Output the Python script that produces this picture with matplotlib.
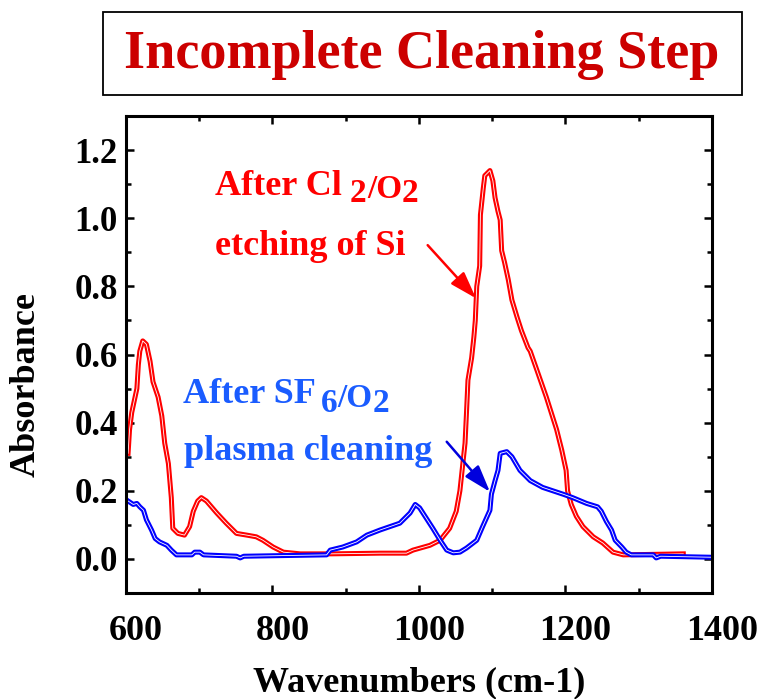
import matplotlib
matplotlib.use("Agg")
import matplotlib.pyplot as plt
import matplotlib.transforms as mtransforms
from matplotlib.patches import Rectangle
import numpy as np

# SPECTRUM DATA (wavenumber in cm-1, absorbance)
cl_wn = [603, 605, 608, 612, 615, 617, 619, 623, 628, 633, 637, 644, 649, 653, 658, 662, 664,
         671, 680, 687, 692, 698, 703, 710, 724, 737, 751, 765, 778, 787, 801, 815, 838, 880,
         947, 983, 992, 1015, 1029, 1042, 1051, 1056, 1060, 1063, 1065, 1067, 1072, 1075, 1077,
         1079, 1083, 1084, 1088, 1090, 1097, 1101, 1104, 1108, 1111, 1113, 1117, 1122, 1127,
         1134, 1140, 1149, 1152, 1161, 1174, 1188, 1195, 1201, 1203, 1208, 1215, 1224, 1238,
         1251, 1265, 1279, 1361]
cl_abs = [0.31, 0.38, 0.43, 0.47, 0.50, 0.57, 0.61, 0.64, 0.63, 0.58, 0.52, 0.475, 0.42, 0.34,
          0.28, 0.18, 0.09, 0.075, 0.07, 0.095, 0.14, 0.17, 0.18, 0.17, 0.135, 0.105, 0.075,
          0.07, 0.065, 0.055, 0.035, 0.02, 0.015, 0.015, 0.017, 0.017, 0.026, 0.04, 0.055,
          0.09, 0.14, 0.20, 0.28, 0.34, 0.43, 0.525, 0.59, 0.65, 0.70, 0.80, 0.86, 1.01, 1.09,
          1.125, 1.14, 1.11, 1.06, 1.02, 0.995, 0.905, 0.87, 0.82, 0.76, 0.71, 0.67, 0.62,
          0.61, 0.555, 0.475, 0.38, 0.32, 0.26, 0.20, 0.16, 0.125, 0.095, 0.065, 0.047, 0.02,
          0.012, 0.015]

sf_wn = [601, 610, 615, 619, 624, 628, 635, 640, 646, 656, 662, 669, 690, 694, 701, 706, 751,
         756, 761, 874, 879, 896, 915, 929, 947, 974, 988, 995, 1001, 1010, 1019, 1029, 1038,
         1047, 1056, 1065, 1079, 1087, 1097, 1099, 1104, 1108, 1111, 1120, 1127, 1138, 1152,
         1169, 1197, 1210, 1229, 1244, 1249, 1256, 1263, 1268, 1277, 1283, 1290, 1320, 1324,
         1330, 1400]
sf_abs = [0.173, 0.16, 0.163, 0.153, 0.143, 0.115, 0.085, 0.06, 0.05, 0.04, 0.026, 0.012,
          0.012, 0.02, 0.02, 0.012, 0.008, 0.003, 0.008, 0.012, 0.026, 0.035, 0.05, 0.07,
          0.085, 0.105, 0.135, 0.16, 0.15, 0.12, 0.09, 0.055, 0.026, 0.018, 0.02, 0.032,
          0.055, 0.095, 0.143, 0.19, 0.23, 0.26, 0.31, 0.315, 0.30, 0.26, 0.23, 0.21, 0.19,
          0.18, 0.163, 0.153, 0.14, 0.11, 0.085, 0.055, 0.035, 0.02, 0.012, 0.012, 0.003,
          0.008, 0.005]

plt.rcParams['font.family'] = 'Liberation Serif'
plt.rcParams['font.weight'] = 'bold'

fig = plt.figure(figsize=(7.63, 6.99), dpi=100)
fig.patch.set_facecolor('white')
ax = fig.add_axes([0.165, 0.1516, 0.768, 0.6824])

# DOUBLE-STROKE CURVES (colored outline with a thin white core)
ax.plot(cl_wn, cl_abs, color='#ff0000', lw=3.6)
ax.plot(cl_wn, cl_abs, color='white', lw=0.6)
ax.plot(sf_wn, sf_abs, color='#0000ff', lw=3.6)
ax.plot(sf_wn, sf_abs, color='white', lw=0.6)

ax.set_xlim(600, 1400)
ax.set_ylim(-0.1, 1.3)
ax.set_xticks(np.arange(600, 1401, 200))
ax.set_xticks(np.arange(700, 1400, 200), minor=True)
ax.set_yticks(np.arange(0, 1.21, 0.2))
ax.set_yticks(np.arange(0.1, 1.3, 0.2), minor=True)
ax.set_yticklabels(['0.0', '0.2', '0.4', '0.6', '0.8', '1.0', '1.2'])

for side in ['top', 'bottom', 'left', 'right']:
    ax.spines[side].set_linewidth(2.2)
ax.tick_params(which='both', direction='in', top=True, right=True, width=1.8)
ax.tick_params(which='major', length=6)
ax.tick_params(which='minor', length=3.8)
ax.tick_params(axis='x', which='major', labelsize=26, pad=16)
ax.tick_params(axis='y', which='major', labelsize=25, pad=6)

# NUDGE X TICK LABELS A LITTLE TO THE RIGHT
shift = mtransforms.ScaledTranslation(10 / 100, 0, fig.dpi_scale_trans)
for lab in ax.get_xticklabels():
    lab.set_transform(lab.get_transform() + shift)

ax.set_xlabel('Wavenumbers (cm-1)', fontsize=26, fontweight='bold', labelpad=13)
ax.set_ylabel('Absorbance', fontsize=26, fontweight='bold')
ax.yaxis.set_label_coords(-0.142, 0.438)

# TITLE IN A FRAMED BOX
fig.patches.append(Rectangle((103 / 763, 1 - 95 / 699), 639 / 763, 83 / 699,
                             transform=fig.transFigure, fill=False, edgecolor='black',
                             lw=1.3))
fig.text(422 / 763, 1 - 55 / 699, 'Incomplete Cleaning Step', color='#cc0000',
         fontsize=39, fontweight='bold', ha='center', va='center')


def drop(px):
    # shift a text down by a number of pixels
    return ax.transData + mtransforms.ScaledTranslation(0, -px / 100, fig.dpi_scale_trans)


# ANNOTATIONS
red = '#ff0000'
ax.text(721, 1.067, 'After Cl', color=red, fontsize=26, va='baseline')
ax.text(905, 1.067, '2', color=red, fontsize=24, va='baseline', transform=drop(7))
ax.text(929, 1.067, '/O', color=red, fontsize=24, va='baseline', transform=drop(3))
ax.text(977, 1.067, '2', color=red, fontsize=24, va='baseline', transform=drop(7))
ax.text(721, 0.891, 'etching of Si', color=red, fontsize=26, va='baseline')

blue = '#1a5cff'
ax.text(678, 0.457, 'After SF', color=blue, fontsize=26, va='baseline')
ax.text(866, 0.457, '6', color=blue, fontsize=24, va='baseline', transform=drop(9))
ax.text(889, 0.457, '/O', color=blue, fontsize=24, va='baseline', transform=drop(4))
ax.text(937, 0.457, '2', color=blue, fontsize=24, va='baseline', transform=drop(9))
ax.text(680, 0.290, 'plasma cleaning', color=blue, fontsize=26, va='baseline')

ax.annotate('', xy=(1078, 0.765), xytext=(1012, 0.921),
            arrowprops=dict(arrowstyle='-|>,head_length=0.55,head_width=0.18',
                            color=red, lw=1.8, mutation_scale=30, shrinkA=0, shrinkB=0))
ax.annotate('', xy=(1097, 0.197), xytext=(1038, 0.344),
            arrowprops=dict(arrowstyle='-|>,head_length=0.55,head_width=0.18',
                            color='#0000dd', lw=1.8, mutation_scale=30, shrinkA=0, shrinkB=0))

fig.savefig('out.png', dpi=100)
